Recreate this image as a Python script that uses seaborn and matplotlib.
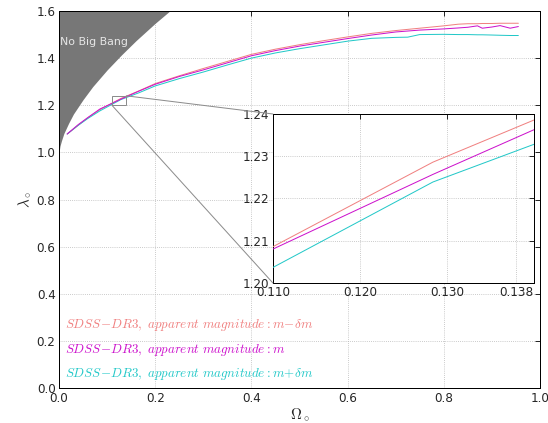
import numpy as np
import pandas as pd
import matplotlib
matplotlib.use("Agg")
import matplotlib.pyplot as plt
from matplotlib.patches import Rectangle, ConnectionPatch
import seaborn as sns

# Omega_0 sample points shared by the three curves
omega = [0.017, 0.04, 0.06, 0.085, 0.1284, 0.165, 0.2, 0.25, 0.3, 0.35, 0.4, 0.45,
         0.5, 0.55, 0.6, 0.65, 0.7, 0.725, 0.75, 0.8, 0.83, 0.85, 0.87, 0.88,
         0.9, 0.917, 0.938, 0.955]
lam_minus = [1.078, 1.115, 1.147, 1.1814, 1.2286, 1.260, 1.292, 1.325, 1.356, 1.386,
             1.416, 1.438, 1.457, 1.474, 1.490, 1.505, 1.517, 1.522, 1.527, 1.537,
             1.544, 1.546, 1.546, 1.547, 1.547, 1.548, 1.548, 1.548]
lam_mid = [1.078, 1.118, 1.148, 1.1840, 1.2257, 1.259, 1.289, 1.322, 1.350, 1.380,
           1.410, 1.432, 1.451, 1.467, 1.483, 1.498, 1.511, 1.515, 1.519, 1.524,
           1.528, 1.531, 1.537, 1.527, 1.532, 1.538, 1.527, 1.534]
lam_plus = [1.078, 1.115, 1.144, 1.1762, 1.2239, 1.252, 1.282, 1.313, 1.341, 1.371,
            1.400, 1.422, 1.440, 1.456, 1.472, 1.484, 1.488, 1.489, 1.500, 1.501,
            1.500, 1.500, 1.499, 1.499, 1.498, 1.497, 1.496, 1.496]

# "No Big Bang" boundary
nbb_omega = [0.0, 0.002, 0.005, 0.01, 0.02, 0.03, 0.05, 0.07, 0.1, 0.13, 0.16, 0.2, 0.232]
nbb_lambda = [1.0, 1.027, 1.049, 1.080, 1.124, 1.163, 1.224, 1.279, 1.350, 1.414, 1.474, 1.548, 1.603]

labels = [r"$SDSS\!-\!DR3,\ apparent\ magnitude: m\!-\!\delta m$",
          r"$SDSS\!-\!DR3,\ apparent\ magnitude: m$",
          r"$SDSS\!-\!DR3,\ apparent\ magnitude: m\!+\!\delta m$"]
colors = ["#f08080", "#cc11cc", "#22c8c8"]
series = [lam_minus, lam_mid, lam_plus]

sns.set_style("white", {"xtick.direction": "in", "ytick.direction": "in",
                        "axes.grid": True, "grid.linestyle": ":", "grid.color": "0.7",
                        "axes.edgecolor": "black"})
plt.rcParams["mathtext.fontset"] = "cm"
plt.rcParams["font.family"] = ["DejaVu Sans"]

fig = plt.figure(figsize=(548 / 72, 423 / 72), dpi=72)
ax = fig.add_axes([0.1077, 0.0827, 0.8777, 0.8913])

ax.fill_between(nbb_omega, nbb_lambda, 1.6, color="#777777", lw=0, zorder=1)
ax.text(0.003, 1.469, "No Big Bang", color="#e6e6e6", fontsize=11, va="center", zorder=2)

zorders = [3, 5, 4]
for lam, lab, col, z in zip(series, labels, colors, zorders):
    df = pd.DataFrame({"omega": omega, "lambda": lam})
    sns.lineplot(data=df, x="omega", y="lambda", color=col, lw=1, label=lab,
                 ax=ax, zorder=z, sort=True)

ax.set_xlim(0, 1)
ax.set_ylim(0, 1.6)
ax.set_xticks(np.arange(0, 1.01, 0.2))
ax.set_yticks(np.arange(0, 1.61, 0.2))
ax.xaxis.set_major_formatter(matplotlib.ticker.FormatStrFormatter("%.1f"))
ax.yaxis.set_major_formatter(matplotlib.ticker.FormatStrFormatter("%.1f"))
ax.tick_params(top=True, right=True, labelsize=12, length=5, width=1)
ax.set_xlabel(r"$\Omega_\circ$", fontsize=15, labelpad=1)
ax.set_ylabel(r"$\lambda_\circ$", fontsize=15)
for s in ax.spines.values():
    s.set_linewidth(1)

leg = ax.legend(loc="lower left", bbox_to_anchor=(0.0, 0.0), frameon=False,
                handlelength=0, handletextpad=0, labelspacing=0.65, fontsize=13,
                borderpad=0.2, borderaxespad=0.25, labelcolor="linecolor")
for h in leg.legend_handles:
    h.set_visible(False)

# zoom box
ax.add_patch(Rectangle((0.110, 1.20), 0.030, 0.04, fill=False, ec="0.55", lw=1, zorder=6))

ins = fig.add_axes([0.498, 0.331, 0.476, 0.3995])
for lam, col, z in zip(series, colors, zorders):
    df = pd.DataFrame({"omega": omega, "lambda": lam})
    sns.lineplot(data=df, x="omega", y="lambda", color=col, lw=1, ax=ins, zorder=z)
ins.set_xlim(0.110, 0.140)
ins.set_ylim(1.20, 1.24)
ins.set_xticks([0.110, 0.120, 0.130, 0.138])
ins.set_yticks([1.20, 1.21, 1.22, 1.23, 1.24])
ins.xaxis.set_major_formatter(matplotlib.ticker.FormatStrFormatter("%.3f"))
ins.yaxis.set_major_formatter(matplotlib.ticker.FormatStrFormatter("%.2f"))
ins.tick_params(top=True, right=True, labelsize=12, length=5, width=1)
ins.set_xlabel("")
ins.set_ylabel("")
for s in ins.spines.values():
    s.set_linewidth(1)

for xy_in, xy_main in [((0, 1), (0.140, 1.24)), ((0, 0), (0.110, 1.20))]:
    con = ConnectionPatch(xyA=xy_in, coordsA=ins.transAxes, xyB=xy_main,
                          coordsB=ax.transData, color="0.55", lw=1)
    fig.add_artist(con)

fig.savefig("out.png", dpi=72)
